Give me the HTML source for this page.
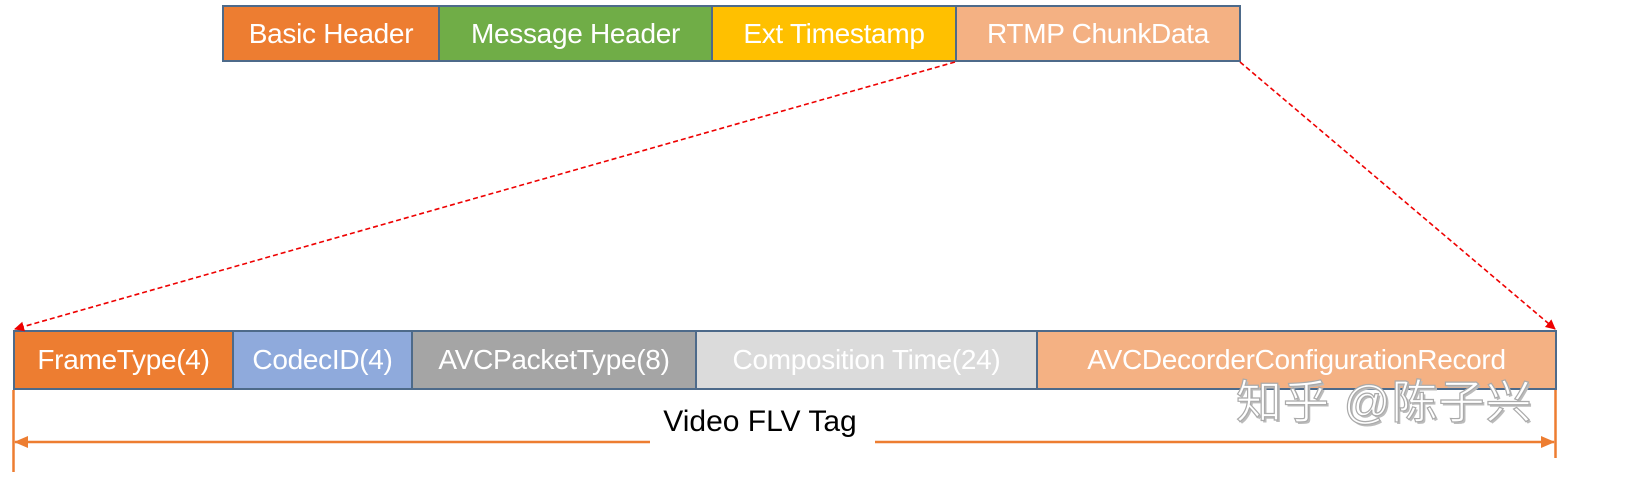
<!DOCTYPE html>
<html><head><meta charset="utf-8"><style>
body{margin:0;width:1652px;height:487px;background:#fff;position:relative;overflow:hidden;font-family:"Liberation Sans","Noto Sans CJK SC",sans-serif}
.b{position:absolute;box-sizing:border-box;border:2px solid #4d6a8a;color:#fff;font-size:28px;display:flex;align-items:center;justify-content:center;white-space:nowrap;letter-spacing:-0.3px}
</style></head><body>
<div class="b" style="left:222px;top:5px;width:218px;height:57px;background:#ed7d31">Basic Header</div>
<div class="b" style="left:438px;top:5px;width:275px;height:57px;background:#70ad47">Message Header</div>
<div class="b" style="left:711px;top:5px;width:246px;height:57px;background:#ffc000">Ext Timestamp</div>
<div class="b" style="left:955px;top:5px;width:286px;height:57px;background:#f4b183">RTMP ChunkData</div>

<div class="b" style="left:13px;top:330px;width:221px;height:60px;background:#ed7d31">FrameType(4)</div>
<div class="b" style="left:232px;top:330px;width:181px;height:60px;background:#8faadc">CodecID(4)</div>
<div class="b" style="left:411px;top:330px;width:286px;height:60px;background:#a5a5a5">AVCPacketType(8)</div>
<div class="b" style="left:695px;top:330px;width:343px;height:60px;background:#dbdbdb">Composition Time(24)</div>
<div class="b" style="left:1036px;top:330px;width:521px;height:60px;background:#f4b183">AVCDecorderConfigurationRecord</div>

<div style="position:absolute;left:1236px;top:366px;font-size:46px;color:#fff;-webkit-text-stroke:1.2px #aaa;text-shadow:2px 2px 0 #bbb;white-space:nowrap;letter-spacing:1px">知乎 @陈子兴</div>

<svg width="1652" height="487" style="position:absolute;left:0;top:0">
<defs>
<marker id="r" markerWidth="10" markerHeight="10" refX="9" refY="5" orient="auto" markerUnits="userSpaceOnUse"><path d="M0,0 L10,5 L0,10 z" fill="#e00"/></marker>
<marker id="o" markerWidth="14" markerHeight="12" refX="13" refY="6" orient="auto" markerUnits="userSpaceOnUse"><path d="M0,0 L14,6 L0,12 z" fill="#ed7d31"/></marker>
</defs>
<line x1="955" y1="62" x2="15" y2="329" stroke="#e00" stroke-width="1.6" stroke-dasharray="5,3" marker-end="url(#r)"/>
<line x1="1240" y1="62" x2="1555" y2="329" stroke="#e00" stroke-width="1.6" stroke-dasharray="5,3" marker-end="url(#r)"/>
<line x1="13.5" y1="390" x2="13.5" y2="472" stroke="#ed7d31" stroke-width="2.5"/>
<line x1="1555.5" y1="390" x2="1555.5" y2="458" stroke="#ed7d31" stroke-width="2.5"/>
<line x1="650" y1="442" x2="15" y2="442" stroke="#ed7d31" stroke-width="2.5" marker-end="url(#o)"/>
<line x1="875" y1="442" x2="1554" y2="442" stroke="#ed7d31" stroke-width="2.5" marker-end="url(#o)"/>
<text x="760" y="431" font-size="30" text-anchor="middle" fill="#000" font-family="Liberation Sans, sans-serif">Video FLV Tag</text>
</svg>
</body></html>
